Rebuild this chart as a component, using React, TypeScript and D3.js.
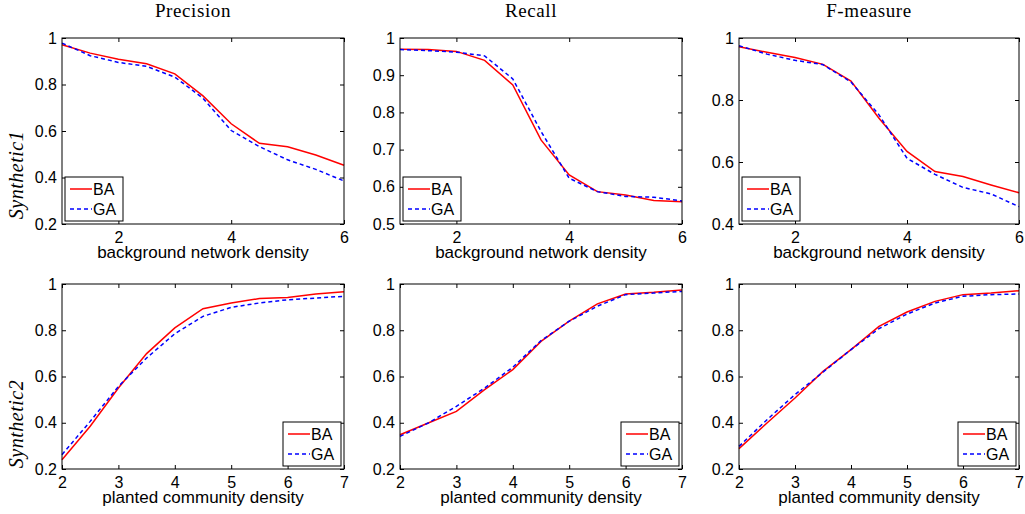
import React, { useEffect, useRef } from 'react';
import * as d3 from 'd3';

// x values of the two experiments
const backgroundDensity = [1, 1.5, 2, 2.5, 3, 3.5, 4, 4.5, 5, 5.5, 6];
const plantedDensity = [2, 2.5, 3, 3.5, 4, 4.5, 5, 5.5, 6, 6.5, 7];

// Synthetic1
const precision1BA = [0.971, 0.935, 0.909, 0.889, 0.846, 0.751, 0.631, 0.547, 0.532, 0.497, 0.453];
const precision1GA = [0.978, 0.924, 0.895, 0.878, 0.832, 0.741, 0.602, 0.533, 0.476, 0.435, 0.385];
const recall1BA = [0.97, 0.969, 0.964, 0.94, 0.874, 0.726, 0.632, 0.587, 0.578, 0.563, 0.56];
const recall1GA = [0.969, 0.966, 0.962, 0.952, 0.89, 0.749, 0.623, 0.587, 0.574, 0.572, 0.562];
const fmeasure1BA = [0.972, 0.954, 0.937, 0.915, 0.861, 0.741, 0.634, 0.569, 0.553, 0.526, 0.501];
const fmeasure1GA = [0.975, 0.948, 0.928, 0.914, 0.858, 0.752, 0.612, 0.56, 0.518, 0.497, 0.456];

// Synthetic2
const precision2BA = [0.24, 0.385, 0.55, 0.699, 0.81, 0.893, 0.918, 0.937, 0.942, 0.957, 0.967];
const precision2GA = [0.262, 0.406, 0.557, 0.68, 0.785, 0.86, 0.899, 0.918, 0.932, 0.939, 0.947];
const recall2BA = [0.348, 0.399, 0.449, 0.543, 0.63, 0.752, 0.839, 0.914, 0.957, 0.964, 0.974];
const recall2GA = [0.341, 0.399, 0.471, 0.55, 0.64, 0.755, 0.839, 0.904, 0.954, 0.961, 0.968];
const fmeasure2BA = [0.288, 0.399, 0.507, 0.622, 0.716, 0.817, 0.879, 0.925, 0.954, 0.961, 0.971];
const fmeasure2GA = [0.298, 0.413, 0.522, 0.619, 0.716, 0.807, 0.87, 0.918, 0.947, 0.954, 0.957];

const columnTitles = ['Precision', 'Recall', 'F-measure'];
const rowLabels = ['Synthetic1', 'Synthetic2'];
const xLabels = ['background network density', 'planted community density'];
const seriesNames = ['BA', 'GA'];

const yDomains = [
  [[0.2, 1], [0.5, 1], [0.4, 1]],
  [[0.2, 1], [0.2, 1], [0.2, 1]],
];
const yTicks = [
  [[0.2, 0.4, 0.6, 0.8, 1], [0.5, 0.6, 0.7, 0.8, 0.9, 1], [0.4, 0.6, 0.8, 1]],
  [[0.2, 0.4, 0.6, 0.8, 1], [0.2, 0.4, 0.6, 0.8, 1], [0.2, 0.4, 0.6, 0.8, 1]],
];
const xDomains = [[1, 6], [2, 7]];
const xTicks = [[2, 4, 6], [2, 3, 4, 5, 6, 7]];

const rows = [
  { xs: backgroundDensity, cols: [[precision1BA, precision1GA], [recall1BA, recall1GA], [fmeasure1BA, fmeasure1GA]] },
  { xs: plantedDensity, cols: [[precision2BA, precision2GA], [recall2BA, recall2GA], [fmeasure2BA, fmeasure2GA]] },
];

// layout of the six axes boxes
const colLeft = [62, 400, 739];
const colRight = [344, 682, 1019];
const rowTop = [38, 284];
const rowBottom = [224, 469];
const rowLabelCenter = [175, 424];

const sans = "'Liberation Sans', Arial, Helvetica, sans-serif";
const serif = "'Liberation Serif', 'Times New Roman', serif";
const seriesColors = ['#ff0000', '#0000ff'];
const seriesDash = ['none', '4,3'];

function App() {
  const svgRef = useRef<SVGSVGElement>(null);

  useEffect(() => {
    const svg = d3.select(svgRef.current);
    svg.selectAll('*').remove();

    svg.append('rect').attr('width', 1025).attr('height', 514).attr('fill', '#ffffff');

    rows.forEach((row, r) => {
      // row label on the left
      svg
        .append('text')
        .attr('transform', `translate(23, ${rowLabelCenter[r]}) rotate(-90)`)
        .attr('text-anchor', 'middle')
        .style('font-family', serif)
        .style('font-style', 'italic')
        .style('font-size', '20px')
        .style('letter-spacing', '0.5px')
        .text(rowLabels[r]);

      row.cols.forEach((pair, c) => {
        const left = colLeft[c];
        const right = colRight[c];
        const top = rowTop[r];
        const bottom = rowBottom[r];

        const x = d3.scaleLinear().domain(xDomains[r]).range([left, right]);
        const y = d3.scaleLinear().domain(yDomains[r][c]).range([bottom, top]);

        const g = svg.append('g');

        // column title on the first row
        if (r === 0) {
          g.append('text')
            .attr('x', (left + right) / 2 - 10)
            .attr('y', 17)
            .attr('text-anchor', 'middle')
            .style('font-family', serif)
            .style('font-size', '19px')
            .style('letter-spacing', '0.6px')
            .text(columnTitles[c]);
        }

        // bottom axis with labels, ticks pointing inward
        const bottomAxis = g
          .append('g')
          .attr('transform', `translate(0, ${bottom})`)
          .call(
            d3.axisBottom(x).tickValues(xTicks[r]).tickSizeInner(-4).tickSizeOuter(0).tickPadding(8).tickFormat(d3.format('d')),
          );
        bottomAxis.select('.domain').remove();
        bottomAxis.selectAll('text').style('font-family', sans).style('font-size', '16px').attr('fill', '#000');

        // top ticks
        const topAxis = g
          .append('g')
          .attr('transform', `translate(0, ${top})`)
          .call(d3.axisTop(x).tickValues(xTicks[r]).tickSizeInner(-4).tickSizeOuter(0).tickFormat(() => ''));
        topAxis.select('.domain').remove();

        // left axis
        const leftAxis = g
          .append('g')
          .attr('transform', `translate(${left}, 0)`)
          .call(
            d3
              .axisLeft(y)
              .tickValues(yTicks[r][c])
              .tickSizeInner(-4)
              .tickSizeOuter(0)
              .tickPadding(5)
              .tickFormat((d) => String(+(+d).toFixed(1))),
          );
        leftAxis.select('.domain').remove();
        leftAxis.selectAll('text').style('font-family', sans).style('font-size', '16px').attr('fill', '#000');

        // right ticks
        const rightAxis = g
          .append('g')
          .attr('transform', `translate(${right}, 0)`)
          .call(d3.axisRight(y).tickValues(yTicks[r][c]).tickSizeInner(-4).tickSizeOuter(0).tickFormat(() => ''));
        rightAxis.select('.domain').remove();

        // x label
        g.append('text')
          .attr('x', (left + right) / 2)
          .attr('y', bottom + 34)
          .attr('text-anchor', 'middle')
          .style('font-family', sans)
          .style('font-size', '17px')
          .text(xLabels[r]);

        // data lines
        const line = d3
          .line<number>()
          .x((_, i) => x(row.xs[i]))
          .y((d) => y(d));

        pair.forEach((values, s) => {
          g.append('path')
            .datum(values)
            .attr('d', line)
            .attr('fill', 'none')
            .attr('stroke', seriesColors[s])
            .attr('stroke-width', 1.5)
            .attr('stroke-dasharray', seriesDash[s]);
        });

        // axes box
        g.append('rect')
          .attr('x', left)
          .attr('y', top)
          .attr('width', right - left)
          .attr('height', bottom - top)
          .attr('fill', 'none')
          .attr('stroke', '#000')
          .attr('stroke-width', 1);

        // legend: bottom-left on first row, bottom-right on second
        const legW = 58;
        const legH = 44;
        const legX = r === 0 ? left + 3 : right - 3 - legW;
        const legY = bottom - 3 - legH;
        const leg = g.append('g').attr('transform', `translate(${legX}, ${legY})`);
        leg
          .append('rect')
          .attr('width', legW)
          .attr('height', legH)
          .attr('fill', '#ffffff')
          .attr('stroke', '#000')
          .attr('stroke-width', 1);
        seriesNames.forEach((name, s) => {
          const ly = 12 + s * 20;
          leg
            .append('line')
            .attr('x1', 5)
            .attr('x2', 27)
            .attr('y1', ly)
            .attr('y2', ly)
            .attr('stroke', seriesColors[s])
            .attr('stroke-width', 1.5)
            .attr('stroke-dasharray', seriesDash[s]);
          leg
            .append('text')
            .attr('x', 28)
            .attr('y', ly + 6)
            .style('font-family', sans)
            .style('font-size', '16px')
            .text(name);
        });
      });
    });
  }, []);

  return (
    <svg
      ref={svgRef}
      width={1025}
      height={514}
      style={{ position: 'absolute', left: 0, top: 0, display: 'block' }}
    />
  );
}

export default App;
